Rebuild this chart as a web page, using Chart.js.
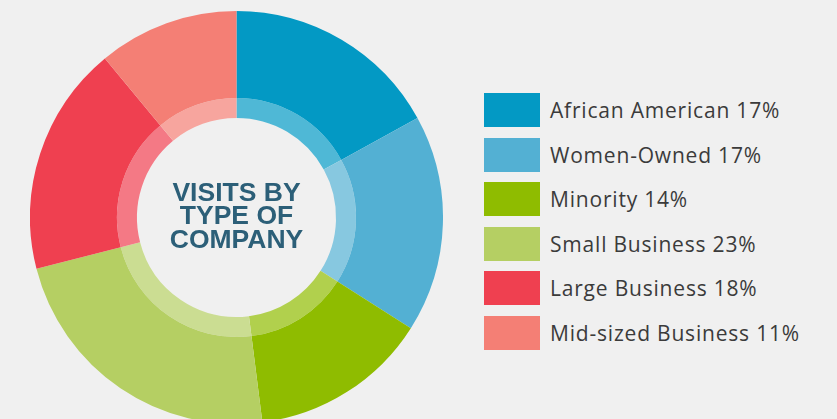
<!DOCTYPE html>
<html>
<head>
<meta charset="utf-8">
<title>Visits by type of company</title>
<script src="https://cdn.jsdelivr.net/npm/chart.js@4/dist/chart.umd.min.js"></script>
<style>
    html, body {
        margin: 0;
        padding: 0;
        width: 837px;
        height: 419px;
        overflow: hidden;
        background: #f0f0f0;
        font-family: "Open Sans", "Lato", sans-serif;
    }
    .chart-box {
        position: absolute;
        left: 30px;
        top: 11px;
        width: 413px;
        height: 413px;
    }
    .legend {
        position: absolute;
        left: 484px;
        top: 93px;
        margin: 0;
        padding: 0;
        list-style: none;
    }
    .legend li {
        display: flex;
        align-items: center;
        height: 34px;
        margin-bottom: 10.5px;
        font-size: 21px;
        letter-spacing: 0.8px;
        color: #3b3b3b;
        white-space: nowrap;
    }
    .legend .swatch {
        display: inline-block;
        width: 56px;
        height: 34px;
        margin-right: 10px;
    }
</style>
</head>
<body>
<div class="chart-box"><canvas id="donut"></canvas></div>
<ul class="legend" id="legend"></ul>

<script>
// Chart data
const categories = ['African American', 'Women-Owned', 'Minority', 'Small Business', 'Large Business', 'Mid-sized Business'];
const shares = [17, 17, 14, 23, 18, 11];
const colors = ['#0399c4', '#53b0d3', '#8fbc00', '#b5cf63', '#ef4050', '#f47f75'];
const centerTitle = ['VISITS BY', 'TYPE OF', 'COMPANY'];

/**
 * Mix a hex colour with white
 */
function lighten(hex, amount) {
    const n = parseInt(hex.slice(1), 16);
    const r = (n >> 16) & 255, g = (n >> 8) & 255, b = n & 255;
    const mix = c => Math.round(c + (255 - c) * amount);
    return 'rgb(' + mix(r) + ',' + mix(g) + ',' + mix(b) + ')';
}

// Title in the hole of the doughnut
const centerText = {
    id: 'centerText',
    afterDraw(chart) {
        const ctx = chart.ctx;
        const meta = chart.getDatasetMeta(0).data[0];
        const cx = meta.x, cy = meta.y;
        ctx.save();
        ctx.fillStyle = '#2c5f78';
        ctx.font = 'bold 26.5px "Liberation Sans", Arial, sans-serif';
        ctx.textAlign = 'center';
        ctx.textBaseline = 'alphabetic';
        const lineHeight = 23.8;
        centerTitle.forEach((line, i) => {
            ctx.fillText(line, cx, cy - 17 + i * lineHeight);
        });
        ctx.restore();
    }
};

document.addEventListener('DOMContentLoaded', function() {
    const donut = document.getElementById('donut');
    new Chart(donut, {
        type: 'doughnut',
        data: {
            labels: categories,
            datasets: [{
                data: shares,
                backgroundColor: colors,
                borderWidth: 0,
                weight: 87
            }, {
                data: shares,
                backgroundColor: colors.map(c => lighten(c, 0.3)),
                borderWidth: 0,
                weight: 20
            }]
        },
        options: {
            responsive: true,
            maintainAspectRatio: false,
            animation: false,
            cutout: '48.2%',
            layout: { padding: 0 },
            plugins: {
                legend: { display: false },
                tooltip: { enabled: false }
            }
        },
        plugins: [centerText]
    });

    // Legend built from the same arrays
    const legend = document.getElementById('legend');
    categories.forEach((name, i) => {
        const li = document.createElement('li');
        li.innerHTML = '<span class="swatch" style="background:' + colors[i] + '"></span>' +
            name + ' ' + shares[i] + '%';
        legend.appendChild(li);
    });
});
</script>
</body>
</html>
